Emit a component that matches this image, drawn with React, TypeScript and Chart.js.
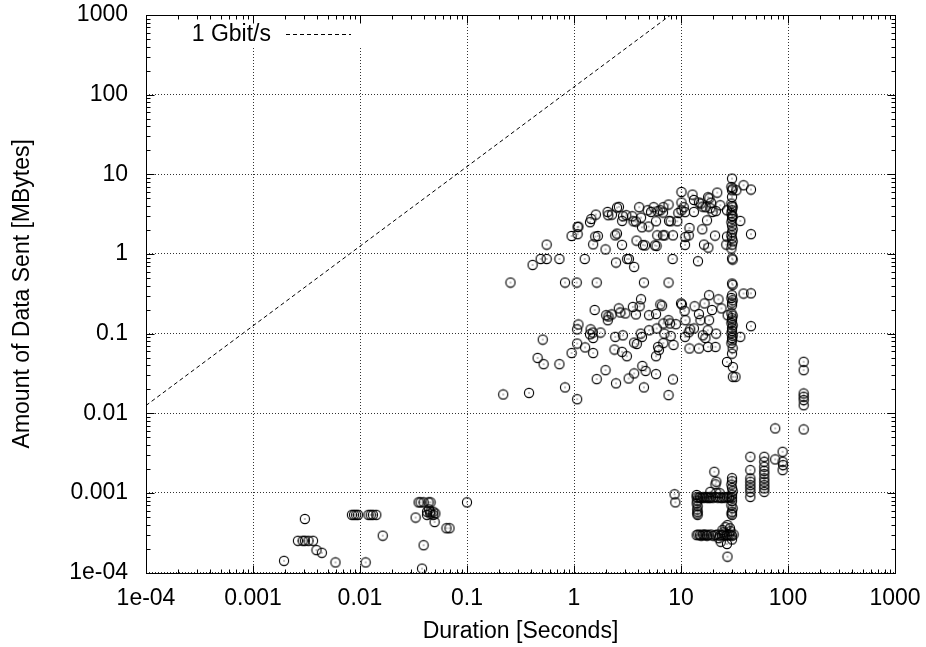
import React, { useEffect, useRef } from 'react';
import { Chart, registerables } from 'chart.js';

Chart.register(...registerables);

const FONT = '"Liberation Sans", Arial, Helvetica, sans-serif';
const FONT_SIZE = 23;

// Decade ticks shared by both log axes
const decadeTicks = [1e-4, 1e-3, 1e-2, 1e-1, 1, 10, 100, 1000];
const decadeLabels = ['1e-04', '0.001', '0.01', '0.1', '1', '10', '100', '1000'];

// Reference line: 1 Gbit/s = 125 MBytes per second
const gbitDurations = [0.0001, 8];
const gbitMBytes = [0.0125, 1000];

// [duration in seconds, MBytes sent]
const tinyFlows: [number, number][] = [
  [0.00195, 0.00014], [0.00305, 0.00047], [0.00263, 0.00025], [0.00291, 0.00025], [0.00305, 0.00025],
  [0.0033, 0.00025], [0.00364, 0.00025], [0.00392, 0.000191], [0.0044, 0.000177], [0.0059, 0.000134],
  [0.0084, 0.00053], [0.0088, 0.00053], [0.0092, 0.00053], [0.0096, 0.00053], [0.012, 0.00053],
  [0.0126, 0.00053], [0.0132, 0.00053], [0.0142, 0.00053], [0.0113, 0.000134], [0.0163, 0.00029],
  [0.0331, 0.00049], [0.0353, 0.00076], [0.0368, 0.00076], [0.0393, 0.00076], [0.0437, 0.00076],
  [0.0456, 0.00076], [0.0423, 0.00058], [0.0454, 0.00058], [0.0484, 0.00058], [0.0423, 0.00053],
  [0.0454, 0.00055], [0.0484, 0.00053], [0.0506, 0.00055], [0.044, 0.00062], [0.0393, 0.00022],
  [0.038, 0.000112], [0.0498, 0.00043], [0.0643, 0.00036], [0.0686, 0.00036], [0.1, 0.00076],
];

const bulkFlows: [number, number][] = [
  [0.255, 0.437], [0.41, 0.728], [0.488, 0.865], [0.555, 0.865], [0.555, 1.31], [0.73, 0.865],
  [0.824, 0.437], [1.06, 0.437], [1.63, 0.437], [4.5, 0.437], [7.65, 0.437], [0.95, 1.68],
  [1.08, 1.77], [1.08, 2.18], [1.1, 2.2], [1.26, 0.865], [1.41, 2.5], [1.45, 2.75], [1.6, 3.12],
  [1.51, 1.32], [1.58, 1.65], [1.67, 1.68], [1.97, 1.14], [2.06, 3.37], [2.09, 3.06], [2.26, 3.12],
  [2.52, 3.82], [2.63, 3.9], [2.43, 1.71], [2.52, 1.8], [2.81, 1.3], [2.47, 0.78], [2.82, 2.6],
  [2.87, 2.97], [3.08, 3.06], [3.14, 0.865], [3.26, 0.865], [3.65, 0.687], [3.5, 2.97], [3.6, 2.57],
  [3.79, 2.55], [4.07, 3.86], [4.23, 2.86], [4.32, 2.16], [3.84, 1.47], [4.41, 1.29], [4.61, 1.28],
  [4.88, 3.53], [4.98, 2.21], [5.25, 3.37], [5.55, 3.86], [5.84, 2.57], [6.05, 3.44], [6.41, 3.53],
  [6.84, 3.86], [6.79, 3.31], [7.65, 4.17], [5.7, 1.28], [5.91, 1.26], [6.0, 1.71], [6.79, 1.71],
  [7.03, 1.71], [8.41, 1.71], [7.73, 2.6], [8.0, 2.57], [9.23, 2.57], [9.44, 3.27], [8.34, 0.865],
  [10.1, 6.0], [10.1, 4.42], [10.1, 3.53], [10.6, 3.86], [10.9, 3.35], [11.0, 1.63], [12.0, 2.12],
  [11.8, 1.71], [10.9, 1.3], [14.4, 0.81], [12.8, 5.56], [13.2, 4.76], [13.2, 3.37], [14.7, 4.42],
  [15.3, 4.29], [15.9, 3.93], [17.0, 3.86], [17.9, 5.14], [18.4, 5.0], [18.8, 3.74], [19.1, 4.4],
  [19.7, 3.37], [16.4, 1.31], [18.0, 1.2], [15.8, 2.04], [17.5, 2.64], [20.8, 1.7], [21.8, 5.89],
  [21.2, 3.45], [23.3, 4.08], [26.9, 3.53], [26.5, 1.31], [26.9, 1.65],
];

const bulkTimeouts: [number, number][] = [
  [30, 8.83], [29.6, 6.93], [30.4, 6.6], [30, 6.3], [30, 5.19], [29.6, 4.29], [30.4, 3.86], [30, 3.53],
  [29.6, 3.24], [30.4, 2.97], [30, 2.77], [29.6, 2.5], [30, 2.26], [30.4, 2.04], [30, 1.87], [29.6, 1.71],
  [30, 1.57], [30.4, 1.44], [30, 1.31], [29.6, 1.17], [30, 0.875], [30.4, 0.85], [30, 4.0], [30, 3.0],
  [38.4, 7.28], [45.1, 6.43], [32.9, 6.3], [35.8, 2.6], [45.1, 1.77],
];

const mediumFlows: [number, number][] = [
  [4.23, 0.27], [1.56, 0.198], [2.0, 0.17], [2.1, 0.164], [2.07, 0.147], [2.25, 0.174], [2.62, 0.207],
  [2.71, 0.184], [3.02, 0.179], [3.55, 0.216], [3.79, 0.174], [4.1, 0.22], [5.03, 0.17], [5.84, 0.176],
  [6.41, 0.232], [6.66, 0.224], [7.65, 0.147], [6.84, 0.134], [8.95, 0.131], [10.0, 0.239], [10.2, 0.232],
  [1.1, 0.13], [1.07, 0.113], [1.43, 0.113], [1.5, 0.103], [1.77, 0.103], [1.51, 0.088], [1.41, 0.098],
  [1.07, 0.075], [1.27, 0.067], [1.51, 0.057], [0.95, 0.057], [0.73, 0.0413], [0.52, 0.0413],
  [0.457, 0.0495], [0.51, 0.084], [0.824, 0.0211], [0.38, 0.018], [0.218, 0.0172], [1.07, 0.015],
  [1.63, 0.0268], [1.97, 0.0347], [2.47, 0.0237], [3.24, 0.0273], [3.65, 0.0316], [4.35, 0.0393],
  [4.67, 0.034], [5.84, 0.031], [4.5, 0.0211], [7.65, 0.0169], [8.41, 0.0266], [2.39, 0.063],
  [2.81, 0.059], [3.12, 0.052], [2.43, 0.091], [2.86, 0.095], [3.65, 0.077], [3.86, 0.074], [4.2, 0.1],
  [4.32, 0.091], [5.03, 0.11], [5.93, 0.116], [6.22, 0.062], [5.84, 0.052], [6.84, 0.076], [6.11, 0.068],
  [7.0, 0.1], [8.0, 0.093], [8.5, 0.072], [7.9, 0.134], [10.8, 0.193], [11.0, 0.147], [11.8, 0.104],
  [10.9, 0.091], [12.2, 0.113], [13.2, 0.116], [13.4, 0.22], [14.7, 0.176], [15.2, 0.147], [16.6, 0.239],
  [18.3, 0.303], [19.5, 0.198], [22.4, 0.269], [23.9, 0.207], [18.3, 0.147], [17.8, 0.11], [21.3, 0.1],
  [16.0, 0.095], [16.9, 0.088], [12.0, 0.065], [14.7, 0.065], [17.9, 0.068], [21.0, 0.068], [27.3, 0.17],
];

const mediumTimeouts: [number, number][] = [
  [30, 0.425], [30.4, 0.41], [30, 0.303], [29.6, 0.28], [30.4, 0.262], [30, 0.245], [30, 0.227],
  [29.6, 0.18], [30.4, 0.168], [30, 0.156], [30, 0.146], [29.6, 0.136], [30.4, 0.127], [30, 0.117],
  [30, 0.108], [29.6, 0.101], [30.4, 0.094], [30, 0.088], [30, 0.082], [29.6, 0.076], [30.4, 0.0655],
  [30, 0.056], [26.9, 0.044], [30.5, 0.038], [30.5, 0.0286], [32.3, 0.0286], [38.4, 0.318],
  [45.1, 0.32], [45.1, 0.124], [35.8, 0.091],
];

const idleFlows: [number, number][] = [
  [8.7, 0.00096], [8.85, 0.00076],
  [14, 0.00088], [14.5, 0.00087], [15, 0.00088], [15.5, 0.00086], [16, 0.00088], [16.5, 0.00087],
  [17, 0.00089], [17.5, 0.00087], [18, 0.00088], [18.5, 0.00086], [19, 0.00088], [20, 0.00087],
  [21, 0.00089], [22, 0.00087], [23, 0.00088], [24, 0.00086], [25, 0.00088], [26, 0.00087],
  [27, 0.00089], [28, 0.00087], [29, 0.00088], [30, 0.00087],
  [14, 0.00094], [14.2, 0.0008], [14, 0.00074], [14.3, 0.00068], [14.2, 0.00062], [14.3, 0.00058],
  [14.2, 0.00055], [14.3, 0.00053],
  [30, 0.00153], [30, 0.0014], [29.6, 0.00127], [30, 0.00115], [30.4, 0.00105], [30, 0.00095],
  [30, 0.00079], [29.6, 0.0007], [30.4, 0.00064], [30, 0.00058], [29.6, 0.00055], [30, 0.00053],
  [20.5, 0.00184], [21.4, 0.00138], [21, 0.00128], [18.8, 0.00103], [21.4, 0.001], [23, 0.00099],
  [14, 0.000295], [14.5, 0.0003], [15, 0.000295], [15.5, 0.00029], [16, 0.0003], [16.5, 0.000295],
  [17, 0.0003], [17.5, 0.00029], [18, 0.000295], [19, 0.0003], [20, 0.00029], [21, 0.000295],
  [22, 0.0003], [23, 0.00029], [24, 0.000295], [25, 0.0003], [26, 0.00029], [27, 0.000295],
  [28, 0.0003], [29, 0.000295], [30, 0.00029], [31, 0.0003],
  [24.4, 0.000341], [27.2, 0.000394], [28.7, 0.000359], [23.5, 0.000243], [26.9, 0.000228],
  [27.2, 0.000158], [26, 0.00037], [29, 0.00033], [25, 0.00032], [30, 0.00026], [22.5, 0.00027],
];

const slowSmallFlows: [number, number][] = [
  [44.5, 0.00284], [44.5, 0.00193], [44.5, 0.00152], [44.5, 0.00138], [44.5, 0.00125], [44.5, 0.00114],
  [44.5, 0.00103], [44.5, 0.00089],
  [60, 0.00284], [60, 0.00246], [60, 0.00213], [60, 0.00189], [60, 0.00172], [60, 0.00152],
  [60, 0.00138], [60, 0.00125], [60, 0.00114], [60, 0.00103],
  [76, 0.00645], [76, 0.00263], [89, 0.00328], [89, 0.00246], [90, 0.00223], [89, 0.00193],
  [140, 0.0442], [140, 0.0347], [140, 0.0177], [140, 0.0161], [140, 0.0146], [140, 0.0126], [140, 0.00626],
];

const allFlows = [
  ...tinyFlows, ...bulkFlows, ...bulkTimeouts, ...mediumFlows, ...mediumTimeouts, ...idleFlows, ...slowSmallFlows,
];

function makeMarker(): HTMLCanvasElement {
  const c = document.createElement('canvas');
  c.width = 12;
  c.height = 12;
  const g = c.getContext('2d')!;
  g.strokeStyle = '#000';
  g.lineWidth = 1.15;
  g.beginPath();
  g.arc(6, 6, 4.6, 0, Math.PI * 2);
  g.stroke();
  g.fillStyle = '#000';
  g.fillRect(5.5, 5.5, 1, 1);
  return c;
}

const frame = {
  id: 'gnuFrame',
  beforeDatasetsDraw(chart: any) {
    const { ctx, chartArea: a } = chart;
    // the key area is kept clear of the grid
    ctx.save();
    ctx.fillStyle = '#fff';
    ctx.fillRect(a.left + 1, a.top + 1, 219, 32);
    ctx.restore();
  },
  afterDatasetsDraw(chart: any) {
    const { ctx, chartArea: a, scales } = chart;
    const L = Math.round(a.left) + 0.5;
    const R = Math.round(a.right) + 0.5;
    const T = Math.round(a.top) + 0.5;
    const B = Math.round(a.bottom) + 0.5;
    ctx.save();
    ctx.strokeStyle = '#000';
    ctx.lineWidth = 1;
    ctx.strokeRect(L, T, R - L, B - T);

    const major = 8;
    const minor = 4;
    ctx.beginPath();
    for (let i = 0; i < decadeTicks.length; i++) {
      const d = decadeTicks[i];
      for (let k = 1; k <= 9; k++) {
        const v = d * k;
        if (v > 1000) break;
        const len = k === 1 ? major : minor;
        const px = Math.round(scales.x.getPixelForValue(v)) + 0.5;
        ctx.moveTo(px, B); ctx.lineTo(px, B - len);
        ctx.moveTo(px, T); ctx.lineTo(px, T + len);
        const py = Math.round(scales.y.getPixelForValue(v)) + 0.5;
        ctx.moveTo(L, py); ctx.lineTo(L + len, py);
        ctx.moveTo(R, py); ctx.lineTo(R - len, py);
      }
    }
    ctx.stroke();

    // key
    ctx.fillStyle = '#000';
    ctx.font = `${FONT_SIZE}px ${FONT}`;
    ctx.textAlign = 'right';
    ctx.textBaseline = 'middle';
    ctx.fillText('1 Gbit/s', 271, 35);
    ctx.setLineDash([4, 3]);
    ctx.beginPath();
    ctx.moveTo(286, 34.5);
    ctx.lineTo(351, 34.5);
    ctx.stroke();
    ctx.restore();
  },
};

export default function App() {
  const ref = useRef<HTMLCanvasElement | null>(null);

  useEffect(() => {
    if (!ref.current) return;
    const marker = makeMarker();
    const tickFont = { family: FONT, size: FONT_SIZE };
    const chart = new Chart(ref.current, {
      type: 'scatter',
      data: {
        datasets: [
          {
            type: 'line',
            label: '1 Gbit/s',
            data: gbitDurations.map((d, i) => ({ x: d, y: gbitMBytes[i] })),
            borderColor: '#000',
            borderWidth: 1,
            borderDash: [4, 3],
            pointRadius: 0,
            fill: false,
          },
          {
            label: 'flows',
            data: allFlows.map(([d, m]) => ({ x: d, y: m })),
            pointStyle: marker,
            pointRadius: 5,
          },
        ],
      },
      options: {
        animation: false,
        responsive: false,
        devicePixelRatio: 1,
        layout: { padding: { top: 15, right: 31, left: 0, bottom: 0 } },
        plugins: { legend: { display: false }, tooltip: { enabled: false } },
        scales: {
          x: {
            type: 'logarithmic',
            min: 1e-4,
            max: 1000,
            afterBuildTicks: (s: any) => { s.ticks = decadeTicks.map((v) => ({ value: v })); },
            afterFit: (s: any) => {
              s.height = 74.5;
              s.paddingLeft = 0;
              s.paddingRight = 0;
            },
            ticks: {
              autoSkip: false,
              maxRotation: 0,
              padding: 12,
              color: '#000',
              font: tickFont,
              callback: (v: any) => decadeLabels[decadeTicks.indexOf(Number(v))] ?? '',
            },
            grid: { color: 'rgba(0,0,0,0.8)', lineWidth: 1, drawTicks: false },
            border: { display: false, dash: [1, 2] },
            title: {
              display: true,
              text: 'Duration [Seconds]',
              color: '#000',
              font: tickFont,
              padding: { top: 0, bottom: 2 },
            },
          },
          y: {
            type: 'logarithmic',
            min: 1e-4,
            max: 1000,
            afterBuildTicks: (s: any) => { s.ticks = decadeTicks.map((v) => ({ value: v })); },
            afterFit: (s: any) => {
              s.width = 146;
              s.paddingTop = 0;
              s.paddingBottom = 0;
            },
            ticks: {
              autoSkip: false,
              padding: 18,
              color: '#000',
              font: tickFont,
              callback: (v: any) => decadeLabels[decadeTicks.indexOf(Number(v))] ?? '',
            },
            grid: { color: 'rgba(0,0,0,0.8)', lineWidth: 1, drawTicks: false },
            border: { display: false, dash: [1, 2] },
            title: {
              display: true,
              text: 'Amount of Data Sent [MBytes]',
              color: '#000',
              font: tickFont,
              padding: { top: 9, bottom: 0 },
            },
          },
        },
      },
      plugins: [frame],
    });
    return () => chart.destroy();
  }, []);

  return (
    <div style={{ position: 'absolute', left: 0, top: 0, width: 926, height: 647, background: '#fff' }}>
      <canvas ref={ref} width={926} height={647} />
    </div>
  );
}
